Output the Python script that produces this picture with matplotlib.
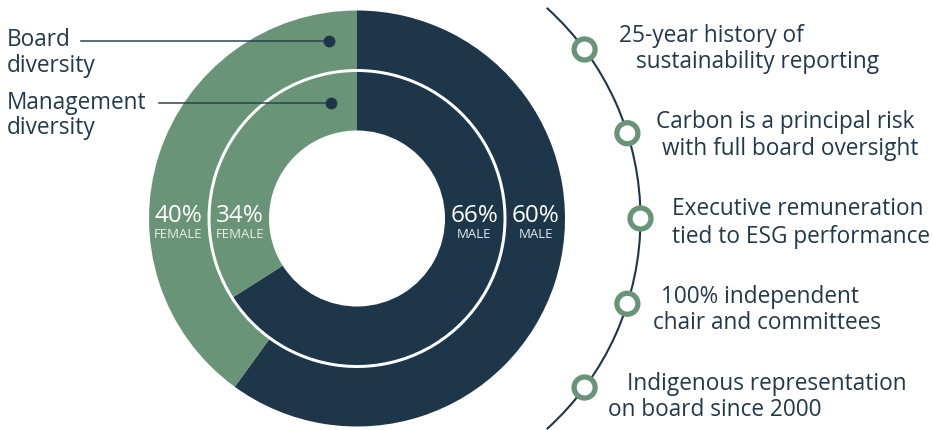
import numpy as np
import matplotlib
matplotlib.use("Agg")
import matplotlib.pyplot as plt
from matplotlib.patches import Circle, Arc

plt.rcParams['font.family'] = ['Open Sans', 'DejaVu Sans']

# Data
groups = ['Board diversity', 'Management diversity']
male = [60, 66]
female = [40, 34]
highlights = [
    ("25-year history of", "sustainability reporting"),
    ("Carbon is a principal risk", "with full board oversight"),
    ("Executive remuneration", "tied to ESG performance"),
    ("100% independent", "chair and committees"),
    ("Indigenous representation", "on board since 2000"),
]

NAVY = '#1e3649'
GREEN = '#6a9477'
TEXT = '#22394c'
FS = 16.3

W, H = 932, 430
fig = plt.figure(figsize=(W / 100, H / 100), dpi=100)
ax = fig.add_axes([0, 0, 1, 1])

def Y(y):
    # image coords (top-down) -> data coords
    return H - y

cx, cy = 357, Y(218.5)

# Donut rings: outer = board, inner = management
ax.pie([male[0], female[0]], radius=208, center=(cx, cy), startangle=90,
       counterclock=False, colors=[NAVY, GREEN],
       wedgeprops=dict(width=58.5, linewidth=0))
ax.pie([male[1], female[1]], radius=146.5, center=(cx, cy), startangle=90,
       counterclock=False, colors=[NAVY, GREEN],
       wedgeprops=dict(width=58.5, linewidth=0))

# percentage labels on the horizontal through the centre
mids = [178.75, 117.25]
for i in range(2):
    r = mids[i]
    ax.text(cx + r, Y(222), f"{male[i]}%", color='white', fontsize=17.5,
            ha='center', va='baseline')
    ax.text(cx + r, Y(238.5), "MALE", color='#e4e9ee', fontsize=9.5,
            ha='center', va='baseline')
    ax.text(cx - r, Y(222), f"{female[i]}%", color='white', fontsize=17.5,
            ha='center', va='baseline')
    ax.text(cx - r, Y(238.5), "FEMALE", color='#e6eee8', fontsize=9.5,
            ha='center', va='baseline')

# Left callouts
ax.text(7, Y(46.5), "Board", color=TEXT, fontsize=FS, va='baseline')
ax.text(7, Y(71.5), "diversity", color=TEXT, fontsize=FS, va='baseline')
ax.text(7, Y(109), "Management", color=TEXT, fontsize=FS, va='baseline')
ax.text(7, Y(133.5), "diversity", color=TEXT, fontsize=FS, va='baseline')
ax.plot([81, 329], [Y(40.7), Y(40.7)], color='#2b4255', lw=1.1)
ax.plot([329], [Y(40.7)], 'o', color=NAVY, ms=7.5)
ax.plot([159, 331], [Y(102.7), Y(102.7)], color='#2b4255', lw=1.1)
ax.plot([331], [Y(102.7)], 'o', color=NAVY, ms=7.5)

# Right arc with ring markers
R = 283.5
ax.add_patch(Arc((cx, cy), 2 * R, 2 * R, theta1=-48, theta2=48,
                 color=NAVY, lw=1.5))
angles = [36.6, 17.5, 0, -17.5, -36.6]
for a in angles:
    t = np.deg2rad(a)
    ax.add_patch(Circle((cx + R * np.cos(t), cy + R * np.sin(t)), 10.5,
                        facecolor='white', edgecolor=GREEN, lw=3.8, zorder=3))

text_x = [(619, 636), (656, 662), (672, 672), (661, 653), (627, 608)]
text_y = [(41.7, 68.3), (128.3, 155), (215, 243.3), (302.7, 329.3), (390, 416)]
for (l1, l2), (x1, x2), (y1, y2) in zip(highlights, text_x, text_y):
    ax.text(x1, Y(y1), l1, color=TEXT, fontsize=FS, va='baseline')
    ax.text(x2, Y(y2), l2, color=TEXT, fontsize=FS, va='baseline')

ax.set_xlim(0, W)
ax.set_ylim(0, H)
ax.set_aspect('auto')
ax.axis('off')

fig.savefig('out.png', dpi=100, facecolor='white')
